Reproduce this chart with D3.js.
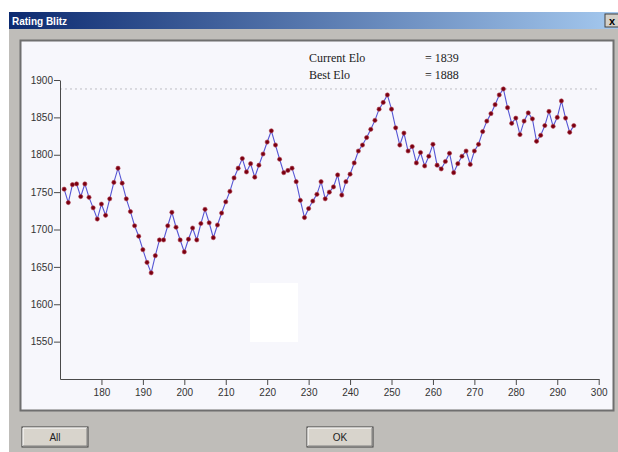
<!DOCTYPE html>
<html>
<head>
<meta charset="utf-8">
<script src="https://cdn.jsdelivr.net/npm/d3@7"></script>
<style>
  body { margin: 0; background: #ffffff; }
</style>
</head>
<body>
<svg id="rating"></svg>
<script>
// game number on x, elo after that game on y
var games = [171, 172, 173, 174, 175, 176, 177, 178, 179, 180,
  181, 182, 183, 184, 185, 186, 187, 188, 189, 190,
  191, 192, 193, 194, 195, 196, 197, 198, 199, 200,
  201, 202, 203, 204, 205, 206, 207, 208, 209, 210,
  211, 212, 213, 214, 215, 216, 217, 218, 219, 220,
  221, 222, 223, 224, 225, 226, 227, 228, 229, 230,
  231, 232, 233, 234, 235, 236, 237, 238, 239, 240,
  241, 242, 243, 244, 245, 246, 247, 248, 249, 250,
  251, 252, 253, 254, 255, 256, 257, 258, 259, 260,
  261, 262, 263, 264, 265, 266, 267, 268, 269, 270,
  271, 272, 273, 274, 275, 276, 277, 278, 279, 280,
  281, 282, 283, 284, 285, 286, 287, 288, 289, 290,
  291, 292, 293, 294]

var ratings = [1754, 1736, 1760, 1761, 1744, 1761, 1743, 1729, 1714, 1734,
  1719, 1741, 1763, 1782, 1762, 1741, 1724, 1705, 1691, 1673,
  1656, 1642, 1665, 1686, 1686, 1705, 1723, 1703, 1686, 1670,
  1687, 1702, 1686, 1708, 1727, 1709, 1689, 1706, 1722, 1737,
  1751, 1769, 1782, 1795, 1777, 1788, 1770, 1786, 1801, 1817,
  1832, 1813, 1794, 1776, 1779, 1782, 1764, 1739, 1716, 1728,
  1738, 1747, 1764, 1741, 1750, 1757, 1773, 1746, 1764, 1774,
  1789, 1805, 1813, 1823, 1834, 1846, 1861, 1870, 1880, 1861,
  1836, 1813, 1829, 1805, 1811, 1789, 1803, 1785, 1798, 1814,
  1786, 1781, 1791, 1802, 1776, 1788, 1798, 1805, 1787, 1805,
  1814, 1831, 1845, 1855, 1867, 1880, 1888, 1863, 1842, 1849,
  1827, 1845, 1856, 1848, 1818, 1826, 1839, 1858, 1838, 1850,
  1872, 1849, 1830, 1839]

var xTicks = [180, 190, 200, 210, 220, 230, 240, 250, 260, 270, 280, 290, 300]
var yTicks = [1550, 1600, 1650, 1700, 1750, 1800, 1850, 1900]

var infoLabels = ["Current Elo", "Best Elo"]
var infoValues = [1839, 1888]
var bestElo = 1888

var buttons = ["All", "OK"]

var dimensions = {
  width: 618,
  height: 452,
  margin: {
    top: 80,
    bottom: 73,
    right: 19,
    left: 60
  }
}

var svg = d3.select("#rating")
  .attr("width", dimensions.width)
  .attr("height", dimensions.height)
  .style("display", "block")

// dialog frame
svg.append("rect")
  .attr("x", 9).attr("y", 12)
  .attr("width", dimensions.width - 9).attr("height", dimensions.height - 12)
  .attr("fill", "#bfbdb9")

var grad = svg.append("defs").append("linearGradient")
  .attr("id", "titlegrad")
grad.append("stop").attr("offset", "0%").attr("stop-color", "#0c2a70")
grad.append("stop").attr("offset", "100%").attr("stop-color", "#a4c8ee")

svg.append("rect")
  .attr("x", 9).attr("y", 12)
  .attr("width", dimensions.width - 9).attr("height", 17)
  .attr("fill", "url(#titlegrad)")

svg.append("text")
  .attr("x", 12).attr("y", 24.5)
  .attr("font-family", "Liberation Sans, Arial, sans-serif")
  .attr("font-size", "10px")
  .attr("font-weight", "bold")
  .attr("fill", "white")
  .text("Rating Blitz")

svg.append("rect")
  .attr("x", 605).attr("y", 14)
  .attr("width", 15).attr("height", 13)
  .attr("fill", "#d4d0c8")
  .attr("stroke", "#404040")
svg.append("text")
  .attr("x", 609).attr("y", 24.5)
  .attr("font-family", "Liberation Sans, Arial, sans-serif")
  .attr("font-size", "11px")
  .attr("font-weight", "bold")
  .attr("fill", "black")
  .text("x")

// plot panel
svg.append("rect")
  .attr("x", 20.5).attr("y", 40.5)
  .attr("width", 593).attr("height", 370)
  .attr("fill", "#f7f7fc")
  .attr("stroke", "#6f6f6f")
  .attr("stroke-width", 2)

var xScale = d3.scaleLinear()
  .domain([170, 300])
  .range([dimensions.margin.left, 598.7])

var yScale = d3.scaleLinear()
  .domain([1500, 1900])
  .range([dimensions.height - dimensions.margin.bottom, dimensions.margin.top])

// white patch in the plot area
svg.append("rect")
  .attr("x", 250).attr("y", 283)
  .attr("width", 48).attr("height", 59)
  .attr("fill", "#ffffff")

// best elo line
svg.append("line")
  .attr("x1", xScale(170)).attr("x2", 600)
  .attr("y1", yScale(bestElo)).attr("y2", yScale(bestElo))
  .attr("stroke", "#bdbdc4")
  .attr("stroke-dasharray", "2,3")

var xAxisGen = d3.axisBottom(xScale)
  .tickValues(xTicks)
  .tickFormat(d3.format("d"))
  .tickSize(6)
  .tickSizeOuter(0)
  .tickPadding(4)
var xAxis = svg.append("g")
  .call(xAxisGen)
  .attr("transform", `translate(0,${yScale(1500)})`)

var yAxisGen = d3.axisLeft(yScale)
  .tickValues(yTicks)
  .tickFormat(d3.format("d"))
  .tickSize(6)
  .tickSizeOuter(0)
  .tickPadding(1)
var yAxis = svg.append("g")
  .call(yAxisGen)
  .attr("transform", `translate(${dimensions.margin.left},0)`)

svg.selectAll(".domain, .tick line")
  .attr("stroke", "#4a4a4a")
svg.selectAll(".tick text")
  .attr("font-family", "Liberation Sans, Arial, sans-serif")
  .attr("font-size", "10px")
  .attr("fill", "#333333")

var points = games.map((g, i) => ({game: g, elo: ratings[i]}))

var line = d3.line()
  .x(d => xScale(d.game))
  .y(d => yScale(d.elo))

svg.append("path")
  .datum(points)
  .attr("d", line)
  .attr("fill", "none")
  .attr("stroke", "#5555d4")
  .attr("stroke-width", 1.1)

svg.selectAll(".dot")
  .data(points)
  .enter().append("circle")
  .attr("class", "dot")
  .attr("cx", d => xScale(d.game))
  .attr("cy", d => yScale(d.elo))
  .attr("r", 2.1)
  .attr("fill", "#7a0010")
  .attr("stroke", "#b04050")
  .attr("stroke-width", 0.6)

// info block
var info = svg.selectAll(".info")
  .data(infoLabels)
  .enter().append("g")
  .attr("class", "info")
info.append("text")
  .attr("x", 309)
  .attr("y", (d, i) => 61.5 + i * 17.5)
  .attr("font-family", "Liberation Serif, Times New Roman, serif")
  .attr("font-size", "12px")
  .attr("fill", "#222")
  .text(d => d)
info.append("text")
  .attr("x", 425)
  .attr("y", (d, i) => 61.5 + i * 17.5)
  .attr("font-family", "Liberation Serif, Times New Roman, serif")
  .attr("font-size", "12px")
  .attr("fill", "#222")
  .text((d, i) => "= " + infoValues[i])

// buttons
var btnX = [22, 307]
var btn = svg.selectAll(".btn")
  .data(buttons)
  .enter().append("g")
  .attr("class", "btn")
  .attr("transform", (d, i) => `translate(${btnX[i]},427)`)
btn.append("rect")
  .attr("width", 66).attr("height", 20)
  .attr("fill", "#d8d4cc")
  .attr("stroke", "#404040")
btn.append("path")
  .attr("d", "M1,19 L1,1 L65,1")
  .attr("fill", "none")
  .attr("stroke", "#ffffff")
btn.append("path")
  .attr("d", "M1,19 L65,19 L65,1")
  .attr("fill", "none")
  .attr("stroke", "#808080")
btn.append("text")
  .attr("x", 33).attr("y", 14)
  .attr("text-anchor", "middle")
  .attr("font-family", "Liberation Sans, Arial, sans-serif")
  .attr("font-size", "10px")
  .attr("fill", "#222")
  .text(d => d)
</script>
</body>
</html>
